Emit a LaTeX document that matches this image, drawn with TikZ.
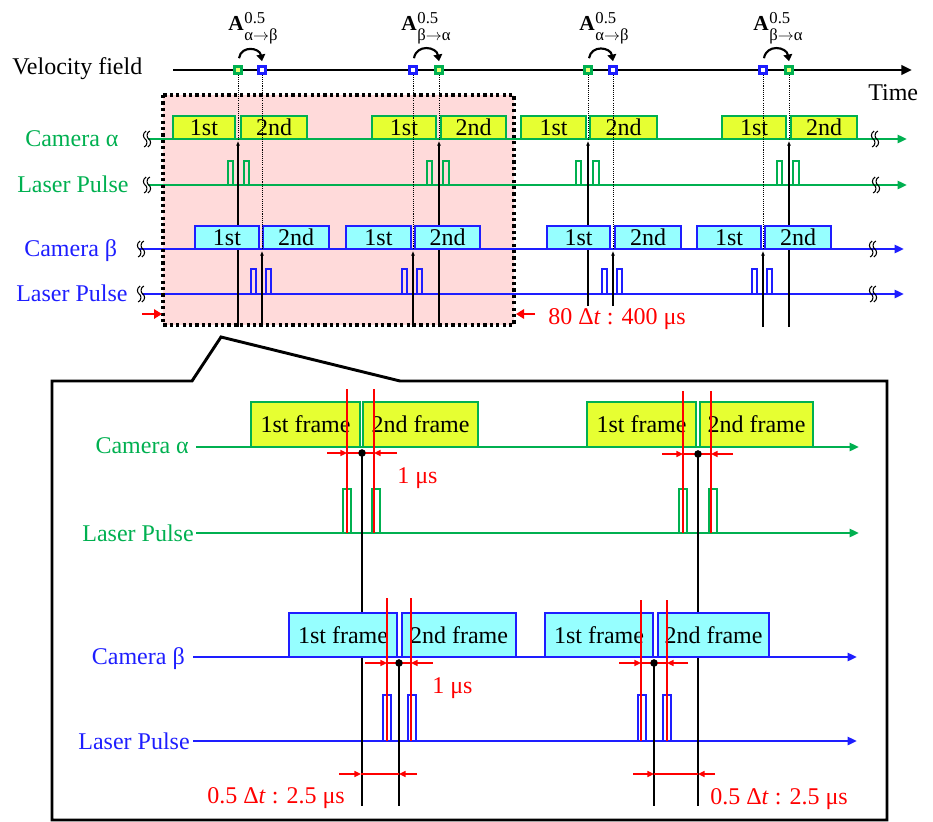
\documentclass[tikz,border=0pt]{standalone}
\usepackage{fontspec}
\setmainfont{Liberation Serif}
\usetikzlibrary{arrows.meta,fit,calc}
\definecolor{grn}{RGB}{0,176,80}
\definecolor{blu}{RGB}{30,30,255}
\definecolor{yel}{RGB}{230,255,50}
\definecolor{cya}{RGB}{150,255,255}
\definecolor{pnk}{RGB}{255,218,218}
\definecolor{rd}{RGB}{255,0,0}
\newcommand\Alab[1]{\textbf{A}\hspace{0.6pt}\raisebox{-7.6pt}{\fontsize{12.5}{12}\selectfont\begin{tabular}[b]{@{}l@{}}0.5\\#1\end{tabular}}}
\begin{document}
\begin{tikzpicture}[x=0.75pt,y=-0.75pt,
  txt/.style={font=\fontsize{18}{20}\selectfont, inner sep=0pt},
  gtxt/.style={txt, text=grn},
  btxt/.style={txt, text=blu},
  rtxt/.style={txt, text=rd},
  gline/.style={draw=grn, line width=2pt, -{Triangle[length=7pt,width=6pt]}},
  bline/.style={draw=blu, line width=2pt, -{Triangle[length=7pt,width=6pt]}},
  fa/.style={draw=grn, fill=yel, line width=2pt, inner sep=0pt},
  fb/.style={draw=blu, fill=cya, line width=2pt, inner sep=0pt},
  gpul/.style={draw=grn, line width=1.6pt},
  bpul/.style={draw=blu, line width=1.6pt},
  gm/.style={rectangle, draw=grn, fill=yel!70, line width=2.2pt, minimum size=5pt, inner sep=0pt},
  bm/.style={rectangle, draw=blu, fill=white, line width=2.2pt, minimum size=5pt, inner sep=0pt},
  carr/.style={line width=1.6pt, -{Triangle[length=5pt,width=6.5pt]}},
  dotl/.style={line width=0.6pt, dash pattern=on 0.8pt off 0.8pt},
  sarr/.style={line width=0.9pt, -{Latex[length=3.5pt,width=3pt]}},
  rarr/.style={draw=rd, line width=1.8pt, -{Triangle[length=6pt,width=7pt]}},
  rv/.style={draw=rd, line width=1.1pt},
  rdim/.style={draw=rd, line width=1.1pt, -{Triangle[length=5pt,width=4.5pt]}},
  bv/.style={draw=black, line width=1pt},
  dotn/.style={circle, fill=black, inner sep=0pt, minimum size=5.5pt},
  albl/.style={font=\fontsize{16}{16}\selectfont, inner sep=0pt, anchor=base west},
  brk/.pic={\foreach \d in {-1.8,1.8} \draw[line width=0.8pt,black] (\d+1,-8) .. controls (\d-3,-6) and (\d-2,-1) .. (\d,0) .. controls (\d+2,1) and (\d+3,6) .. (\d-1,8);}
]
\useasboundingbox (0,0) rectangle (933,822);

% ================= TOP =================
\fill[pnk] (163,95) rectangle (514,325);

\node[txt, anchor=base west] (vf) at (12,74) {Velocity field};
\node[txt, anchor=base west] (tm) at (868,100) {Time};
\coordinate (v0) at (173,70); \coordinate (v1) at (912,70);

\coordinate (ca0) at (148,139); \coordinate (ca1) at (907,139);
\coordinate (la0) at (148,185); \coordinate (la1) at (907,185);
\coordinate (cb0) at (139,249); \coordinate (cb1) at (904,249);
\coordinate (lb0) at (142,294); \coordinate (lb1) at (904,294);
\draw[gline] (ca0) -- (ca1);
\draw[gline] (la0) -- (la1);
\draw[bline] (cb0) -- (cb1);
\draw[bline] (lb0) -- (lb1);

\node[gtxt, anchor=base west] (lca) at (25,146) {Camera α};
\node[gtxt, anchor=base west] (lla) at (17,192) {Laser Pulse};
\node[btxt, anchor=base west] (lcb) at (24,256) {Camera β};
\node[btxt, anchor=base west] (llb) at (16,301) {Laser Pulse};

% markers
\node[gm] (g1) at (238,70) {}; \node[bm] (b1) at (262,70) {};
\node[bm] (b2) at (413,70) {}; \node[gm] (g2) at (439,70) {};
\node[gm] (g3) at (588,70) {}; \node[bm] (b3) at (613,70) {};
\node[bm] (b4) at (763,70) {}; \node[gm] (g4) at (789,70) {};

% solid arrows (under boxes)
\coordinate (bt) at (0,327); \coordinate (bt3) at (0,306);
\draw[sarr] (g1 |- bt) -- ($(g1 |- ca0)+(0,2)$);
\draw[sarr] (b1 |- bt) -- ($(b1 |- cb0)+(0,2)$);
\draw[sarr] (b2 |- bt) -- ($(b2 |- cb0)+(0,2)$);
\draw[sarr] (g2 |- bt) -- ($(g2 |- ca0)+(0,2)$);
\draw[sarr] (g3 |- bt3) -- ($(g3 |- ca0)+(0,2)$);
\draw[sarr] (b3 |- bt3) -- ($(b3 |- cb0)+(0,2)$);
\draw[sarr] (b4 |- bt) -- ($(b4 |- cb0)+(0,2)$);
\draw[sarr] (g4 |- bt) -- ($(g4 |- ca0)+(0,2)$);

% camera alpha boxes
\node[fa, fit={(173,116) (235,139)}, label={[txt]center:1st}] (a11) {};
\node[fa, fit={(241,116) (307,139)}, label={[txt]center:2nd}] (a12) {};
\node[fa, fit={(372,116) (436,139)}, label={[txt]center:1st}] (a21) {};
\node[fa, fit={(441,116) (506,139)}, label={[txt]center:2nd}] (a22) {};
\node[fa, fit={(521,116) (586,139)}, label={[txt]center:1st}] (a31) {};
\node[fa, fit={(590,116) (657,139)}, label={[txt]center:2nd}] (a32) {};
\node[fa, fit={(722,116) (786,139)}, label={[txt]center:1st}] (a41) {};
\node[fa, fit={(791,116) (857,139)}, label={[txt]center:2nd}] (a42) {};
% camera beta boxes
\node[fb, fit={(195,226) (259,249)}, label={[txt]center:1st}] (b11) {};
\node[fb, fit={(263,226) (329,249)}, label={[txt]center:2nd}] (b12) {};
\node[fb, fit={(346,226) (411,249)}, label={[txt]center:1st}] (b21) {};
\node[fb, fit={(415,226) (480,249)}, label={[txt]center:2nd}] (b22) {};
\node[fb, fit={(547,226) (610,249)}, label={[txt]center:1st}] (b31) {};
\node[fb, fit={(615,226) (681,249)}, label={[txt]center:2nd}] (b32) {};
\node[fb, fit={(697,226) (761,249)}, label={[txt]center:1st}] (b41) {};
\node[fb, fit={(765,226) (831,249)}, label={[txt]center:2nd}] (b42) {};

% pulses
\foreach \a/\b in {228/233,244/249,427/432,443/449,576/581,593/599,777/782,793/799}
  \draw[gpul] (\a,185) -- (\a,161) -- (\b,161) -- (\b,185);
\foreach \a/\b in {251/256,266/271,402/407,417/422,602/607,617/622,752/757,767/772}
  \draw[bpul] (\a,294) -- (\a,269) -- (\b,269) -- (\b,294);

% dotted lines from markers
\draw[dotl] (g1.south) -- (g1 |- ca0);
\draw[dotl] (b1.south) -- (b1 |- cb0);
\draw[dotl] (b2.south) -- (b2 |- cb0);
\draw[dotl] (g2.south) -- (g2 |- ca0);
\draw[dotl] (g3.south) -- (g3 |- ca0);
\draw[dotl] (b3.south) -- (b3 |- cb0);
\draw[dotl] (b4.south) -- (b4 |- cb0);
\draw[dotl] (g4.south) -- (g4 |- ca0);

% velocity field line and markers on top
\draw[line width=2.2pt, -{Triangle[length=8pt,width=7pt]}] (v0) -- (v1);
\foreach \n in {g1,g2,g3,g4} \node[gm] at (\n) {};
\foreach \n in {b1,b2,b3,b4} \node[bm] at (\n) {};

% curved arrows
\draw[carr] ($(g1.north)+(1,-7)$) to[out=80,in=100,looseness=1.5] ($(b1.north)+(0,-4)$);
\draw[carr] ($(b2.north)+(1,-7)$) to[out=80,in=100,looseness=1.5] ($(g2.north)+(0,-4)$);
\draw[carr] ($(g3.north)+(1,-7)$) to[out=80,in=100,looseness=1.5] ($(b3.north)+(0,-4)$);
\draw[carr] ($(b4.north)+(1,-7)$) to[out=80,in=100,looseness=1.5] ($(g4.north)+(0,-4)$);

\node[albl] (A1) at (228,30) {\Alab{α$\rightarrow$β}};
\node[albl] (A2) at (401,30) {\Alab{β$\rightarrow$α}};
\node[albl] (A3) at (579,30) {\Alab{α$\rightarrow$β}};
\node[albl] (A4) at (753,30) {\Alab{β$\rightarrow$α}};

% dotted border of the selection
\draw[line width=2.4pt, dash pattern=on 2.4pt off 2.4pt] (163,95) rectangle (514,325);

% break marks
\pic at (147,139) {brk}; \pic at (875,139) {brk};
\pic at (147,185) {brk}; \pic at (876,185) {brk};
\pic at (141,249) {brk}; \pic at (873,249) {brk};
\pic at (141,294) {brk}; \pic at (873,294) {brk};

% red arrows and label
\coordinate (ra0) at (142,314); \coordinate (ra1) at (162,314);
\coordinate (rb0) at (535,314); \coordinate (rb1) at (516,314);
\draw[rarr] (ra0) -- (ra1);
\draw[rarr] (rb0) -- (rb1);
\node[rtxt, anchor=base west] (l80) at (548,324) {80 Δ\textit{t} : 400 μs};

% ================= BOTTOM =================
\draw[line width=2.2pt] (52,820) -- (52,381) -- (192,381) -- (221,337) -- (400,381) -- (887,381) -- (887,820) -- cycle;

\coordinate (Ca0) at (196,447); \coordinate (Ca1) at (859,447);
\coordinate (La0) at (196,533); \coordinate (La1) at (859,533);
\coordinate (Cb0) at (193,657); \coordinate (Cb1) at (857,657);
\coordinate (Lb0) at (193,741); \coordinate (Lb1) at (857,741);
\draw[gline] (Ca0) -- (Ca1);
\draw[gline] (La0) -- (La1);
\draw[bline] (Cb0) -- (Cb1);
\draw[bline] (Lb0) -- (Lb1);

\node[gtxt, anchor=base east] (Lca) at (189,453) {Camera α};
\node[gtxt, anchor=base east] (Lla) at (194,541) {Laser Pulse};
\node[btxt, anchor=base east] (Lcb) at (185,664) {Camera β};
\node[btxt, anchor=base east] (Llb) at (190,749) {Laser Pulse};

% dots and black verticals
\coordinate (bb) at (0,806);
\node[dotn] (dA) at (362,453) {};
\node[dotn] (dB) at (698,454) {};
\node[dotn] (eA) at (399,663) {};
\node[dotn] (eB) at (654,663) {};
\draw[bv] (dA.center) -- (dA |- bb);
\draw[bv] (dB.center) -- (dB |- bb);
\draw[bv] (eA.center) -- (eA |- bb);
\draw[bv] (eB.center) -- (eB |- bb);

% frames
\node[fa, fit={(251,402) (360,447)}, label={[txt]center:1st frame}] (F11) {};
\node[fa, fit={(363,402) (478,447)}, label={[txt]center:2nd frame}] (F12) {};
\node[fa, fit={(587,402) (696,447)}, label={[txt]center:1st frame}] (F21) {};
\node[fa, fit={(700,402) (813,447)}, label={[txt]center:2nd frame}] (F22) {};
\node[fb, fit={(289,613) (397,657)}, label={[txt]center:1st frame}] (G11) {};
\node[fb, fit={(402,613) (516,657)}, label={[txt]center:2nd frame}] (G12) {};
\node[fb, fit={(545,613) (653,657)}, label={[txt]center:1st frame}] (G21) {};
\node[fb, fit={(658,613) (769,657)}, label={[txt]center:2nd frame}] (G22) {};

% pulses
\foreach \a/\b in {343/351,372/380,679/687,709/717}
  \draw[gpul] (\a,533) -- (\a,489) -- (\b,489) -- (\b,533);
\foreach \a/\b in {383/391,408/416,638/646,663/671}
  \draw[bpul] (\a,741) -- (\a,695) -- (\b,695) -- (\b,741);

% red verticals
\foreach \x in {347,374} \draw[rv] (\x,389) -- (\x,533);
\foreach \x in {683,711} \draw[rv] (\x,391) -- (\x,533);
\foreach \x in {387,411} \draw[rv] (\x,598) -- (\x,741);
\foreach \x in {641,667} \draw[rv] (\x,600) -- (\x,741);

% red dimensions
\draw[rdim] (327,453) -- (347,453); \draw[rv] (347,453) -- (374,453); \draw[rdim] (397,453) -- (374,453);
\draw[rdim] (662,454) -- (683,454); \draw[rv] (683,454) -- (711,454); \draw[rdim] (733,454) -- (711,454);
\draw[rdim] (365,663) -- (387,663); \draw[rv] (387,663) -- (411,663); \draw[rdim] (433,663) -- (411,663);
\draw[rdim] (619,663) -- (641,663); \draw[rv] (641,663) -- (667,663); \draw[rdim] (688,663) -- (667,663);
\draw[rdim] (339,774) -- (361,774); \draw[rv] (361,774) -- (399,774); \draw[rdim] (417,774) -- (399,774);
\draw[rdim] (633,774) -- (654,774); \draw[rv] (654,774) -- (698,774); \draw[rdim] (715,774) -- (698,774);

\foreach \n in {dA,dB,eA,eB} \node[dotn] at (\n) {};

\node[rtxt, anchor=base west] (u1) at (397,483) {1 μs};
\node[rtxt, anchor=base west] (u2) at (432,693) {1 μs};
\node[rtxt, anchor=base west] (h1) at (207,803) {0.5 Δ\textit{t} : 2.5 μs};
\node[rtxt, anchor=base west] (h2) at (710,804) {0.5 Δ\textit{t} : 2.5 μs};
\end{tikzpicture}
\end{document}
